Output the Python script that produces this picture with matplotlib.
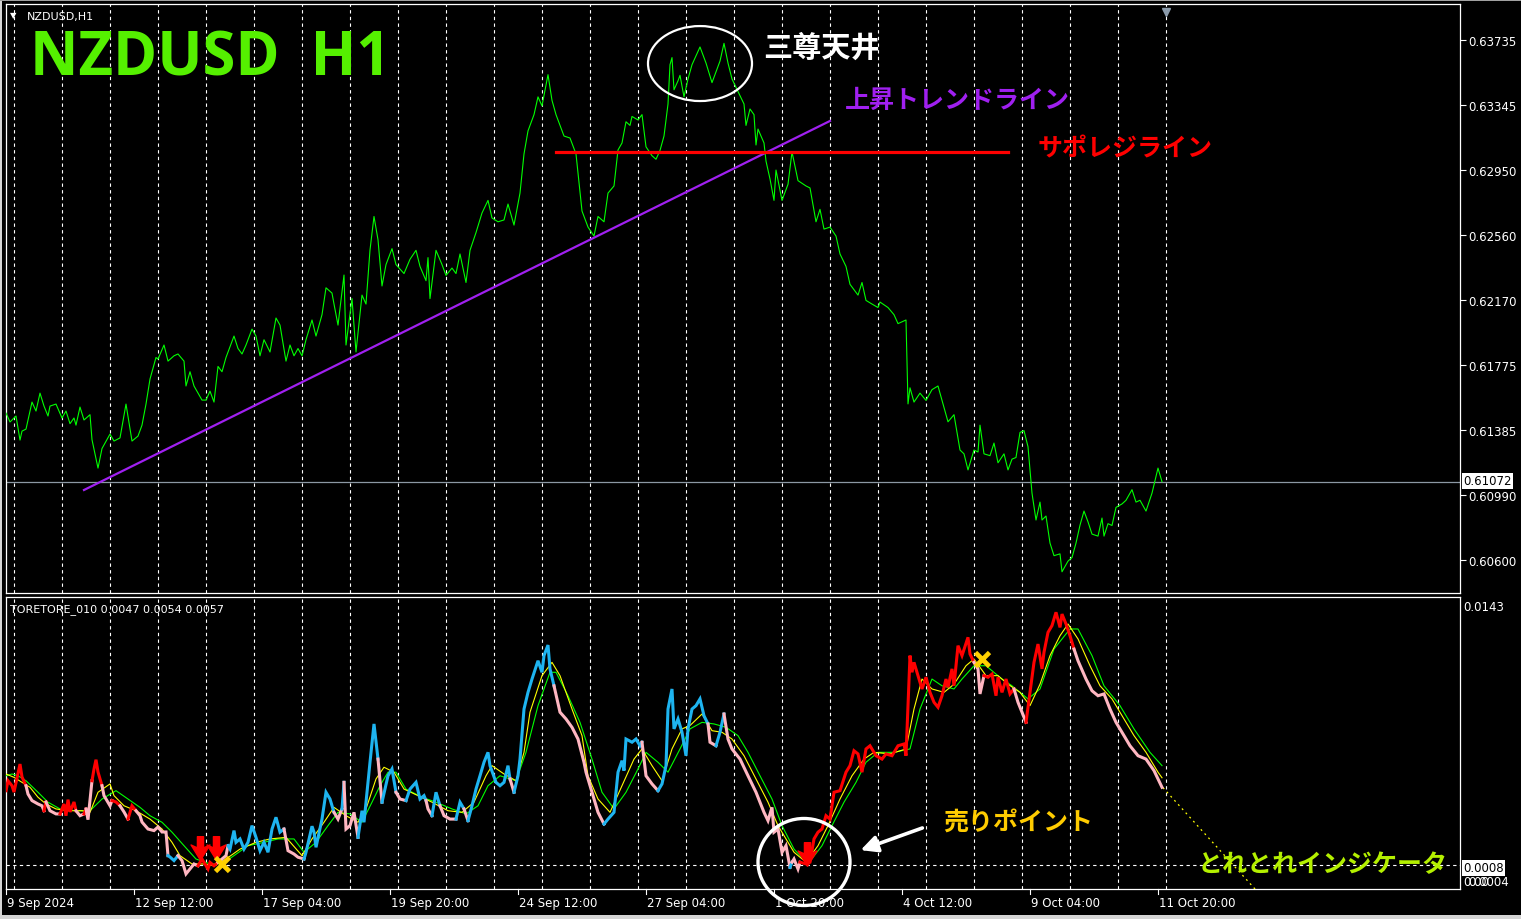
import matplotlib
matplotlib.use("Agg")
import matplotlib.pyplot as plt
from matplotlib.patches import Ellipse, Rectangle
from matplotlib.path import Path

W, H = 1521, 920
JP = ['Noto Sans CJK JP', 'DejaVu Sans']

# ---------------- data ----------------
date_labels = ['9 Sep 2024', '12 Sep 12:00', '17 Sep 04:00', '19 Sep 20:00', '24 Sep 12:00',
               '27 Sep 04:00', '1 Oct 20:00', '4 Oct 12:00', '9 Oct 04:00', '11 Oct 20:00']
date_bars = [0, 64, 128, 192, 256, 320, 384, 448, 512, 576]
day_bars = [4, 28, 52, 76, 100, 124, 148, 172, 196, 220, 244, 268, 292, 316, 340, 364,
            388, 412, 436, 460, 484, 508, 532, 556, 580]
price_ticks = [0.63735, 0.63345, 0.62950, 0.62560, 0.62170, 0.61775, 0.61385, 0.60990, 0.60600]
last_price = 0.61072

# NZDUSD H1 close (bar index, price)
price_bars = [0, 2, 4, 5, 7, 8, 10, 13, 15, 17, 19, 21, 22, 25, 28, 30, 32, 34, 35, 37, 39, 42, 43, 46,
              48, 52, 54, 57, 60, 63, 66, 68, 70, 72, 75, 76, 79, 81, 84, 86, 89, 90, 92, 94, 98, 100,
              102, 104, 106, 108, 110, 112, 114, 116, 118, 120, 123, 125, 127, 129, 132, 135, 137, 140,
              142, 144, 146, 148, 150, 153, 155, 158, 160, 163, 164, 166, 169, 170, 173, 175, 178, 180,
              182, 184, 186, 188, 190, 193, 195, 199, 202, 205, 207, 210, 211, 212, 215, 218, 220, 223,
              225, 227, 230, 232, 235, 238, 241, 243, 246, 249, 251, 254, 257, 259, 261, 264, 266, 268,
              271, 273, 275, 279, 282, 285, 288, 291, 294, 296, 299, 301, 304, 306, 308, 310, 312, 313,
              316, 318, 320, 323, 325, 327, 329, 331, 332, 333, 334, 336, 337, 339, 341, 343, 347, 350,
              353, 355, 357, 359, 361, 363, 366, 369, 370, 372, 374, 375, 376, 379, 380, 382, 384, 385,
              388, 391, 393, 396, 400, 402, 405, 407, 409, 412, 415, 417, 420, 422, 426, 428, 430, 433,
              436, 437, 441, 444, 446, 450, 451, 452, 454, 457, 460, 463, 466, 468, 471, 474, 477, 479,
              481, 484, 486, 487, 489, 492, 494, 496, 499, 501, 503, 505, 507, 509, 511, 513, 515, 517,
              518, 520, 522, 524, 527, 528, 531, 533, 535, 537, 539, 541, 543, 546, 548, 549, 551, 553,
              555, 558, 560, 563, 565, 567, 570, 573, 576, 578]
price_vals = [0.61486, 0.61432, 0.61456, 0.61468, 0.61323, 0.61377, 0.61389, 0.61552, 0.61498, 0.61606,
              0.61528, 0.61468, 0.61528, 0.61540, 0.61456, 0.61498, 0.61422, 0.61456, 0.61413, 0.61522,
              0.61444, 0.61476, 0.61325, 0.61154, 0.61272, 0.61359, 0.61317, 0.61336, 0.61540, 0.61317,
              0.61347, 0.61413, 0.61540, 0.61691, 0.61821, 0.61811, 0.61896, 0.61799, 0.61831, 0.61842,
              0.61799, 0.61649, 0.61735, 0.61649, 0.61564, 0.61564, 0.61618, 0.61552, 0.61767, 0.61735,
              0.61821, 0.61886, 0.61950, 0.61875, 0.61842, 0.61896, 0.61992, 0.61950, 0.61831, 0.61928,
              0.61854, 0.62059, 0.62016, 0.61799, 0.61896, 0.61831, 0.61875, 0.61831, 0.61928, 0.62047,
              0.61950, 0.62079, 0.62241, 0.62209, 0.62143, 0.62016, 0.62318, 0.61896, 0.62176, 0.61854,
              0.62197, 0.62143, 0.62469, 0.62671, 0.62531, 0.62252, 0.62381, 0.62477, 0.62381, 0.62327,
              0.62413, 0.62467, 0.62370, 0.62284, 0.62423, 0.62176, 0.62467, 0.62381, 0.62316, 0.62360,
              0.62327, 0.62445, 0.62273, 0.62467, 0.62574, 0.62692, 0.62768, 0.62662, 0.62639, 0.62650,
              0.62746, 0.62619, 0.62812, 0.63048, 0.63187, 0.63285, 0.63392, 0.63338, 0.63526, 0.63371,
              0.63285, 0.63156, 0.63144, 0.63048, 0.62704, 0.62607, 0.62553, 0.62671, 0.62639, 0.62812,
              0.62855, 0.63072, 0.63114, 0.63242, 0.63220, 0.63274, 0.63253, 0.63285, 0.63091, 0.63037,
              0.63016, 0.63069, 0.63156, 0.63349, 0.63586, 0.63629, 0.63435, 0.63489, 0.63522, 0.63392,
              0.63500, 0.63586, 0.63693, 0.63596, 0.63478, 0.63543, 0.63608, 0.63715, 0.63596, 0.63500,
              0.63424, 0.63349, 0.63220, 0.63319, 0.63285, 0.63102, 0.63198, 0.63114, 0.63005, 0.62897,
              0.62768, 0.62951, 0.62768, 0.62865, 0.63060, 0.62887, 0.62855, 0.62843, 0.62639, 0.62714,
              0.62595, 0.62607, 0.62553, 0.62445, 0.62370, 0.62262, 0.62197, 0.62273, 0.62165, 0.62143,
              0.62122, 0.62155, 0.62122, 0.62079, 0.62025, 0.62047, 0.61541, 0.61638, 0.61552, 0.61606,
              0.61562, 0.61627, 0.61649, 0.61562, 0.61433, 0.61476, 0.61263, 0.61240, 0.61143, 0.61263,
              0.61251, 0.61413, 0.61240, 0.61229, 0.61305, 0.61186, 0.61240, 0.61143, 0.61208, 0.61218,
              0.61369, 0.61380, 0.61283, 0.61003, 0.60841, 0.60949, 0.60841, 0.60865, 0.60702, 0.60626,
              0.60637, 0.60529, 0.60593, 0.60615, 0.60702, 0.60810, 0.60895, 0.60830, 0.60756, 0.60744,
              0.60853, 0.60744, 0.60819, 0.60808, 0.60917, 0.60938, 0.60960, 0.61024, 0.60949, 0.60960,
              0.60895, 0.61003, 0.61154, 0.61072]

# hand drawn objects on the price chart
trend_bars = [39, 412]
trend_prices = [0.61022, 0.63247]
sr_bars = [275, 501]
sr_price = 0.63060
top_ring = (347, 0.63593, 52, 0.00452)        # centre bar, centre price, width (bars), height

# TORETORE_010 indicator, values in units of 0.0001
main_bars = [0, 1, 3, 4, 7, 8, 10,
             11, 13, 16, 18, 19,
             20,
             22, 25, 27,
             29, 30, 31, 32, 34, 35,
             37, 39,
             40,
             41, 43,
             44, 45, 46, 48,
             49, 52, 53,
             55, 57,
             59, 61,
             63, 65,
             67, 68, 71, 74, 76, 78, 80, 81,
             82, 84, 86,
             88, 90, 92, 94, 96,
             98, 99, 101, 102, 104, 106,
             108, 110, 111,
             112, 114, 115, 117, 119, 121, 123, 125, 127, 129, 131, 133, 135, 137, 139,
             141, 144, 146, 149,
             150, 153, 154, 155, 158, 160, 162, 164,
             166, 168,
             169,
             170, 172, 174, 176,
             178, 179, 182, 184, 186,
             188,
             191, 193, 195,
             197, 200,
             202, 205, 207, 209, 210,
             211, 213,
             215, 217,
             219, 222, 225,
             227, 229,
             231,
             233, 235, 237, 239, 241, 242, 245, 247, 249, 251, 252,
             254,
             256, 257, 259, 261, 263, 266, 268, 269, 271, 272, 274,
             277, 280, 283, 286, 289, 290, 293, 296, 299,
             301, 304, 305, 306, 308, 309, 310, 313, 315, 317, 318,
             320, 323, 326,
             328, 330, 331, 333, 334, 336, 338, 340, 341, 343, 345, 347, 349, 351,
             352, 355,
             357, 359,
             361, 363, 367, 371, 375, 379, 381, 383, 384, 386, 388, 390, 392,
             393,
             394, 396, 397,
             400, 402, 404, 406, 408, 410, 412, 414, 417, 420, 422, 424, 426, 428, 430, 432, 435,
             438, 440, 443, 446, 449, 450, 451, 452, 453, 454, 456, 458, 460, 462, 464, 466, 468,
             470, 471, 473, 474, 476, 478, 481, 482, 484,
             486, 487, 489,
             491, 493, 495, 496, 498, 500, 502, 504,
             506, 508, 510,
             512, 514, 516, 518, 519, 521, 523, 525, 527, 528, 530, 532, 534,
             536, 540, 543, 546, 549, 552, 555, 559, 562, 566, 570, 574, 578]
main_e4 = [45.5, 50.5, 48.0, 44.8, 58.9, 52.4, 48.0,
           43.8, 40.5, 38.8, 37.9, 35.4,
           39.8,
           35.4, 33.8, 33.8,
           38.8, 32.9, 41.0, 34.8, 39.8, 35.4,
           32.9, 33.8,
           36.3,
           30.9, 50.5,
           56.4, 61.1, 54.9, 48.0,
           43.0, 37.9, 40.5,
           39.8, 37.9,
           34.8, 31.2,
           37.9, 35.4,
           32.9, 29.7, 26.2, 25.4, 27.2, 24.7, 24.7, 12.8,
           12.1, 10.3, 12.8,
           10.3, 3.6, 6.1, 8.6, 7.7,
           11.1, 9.4, 6.1, 9.4, 7.7, 9.4,
           11.1, 12.8, 17.8,
           16.1, 25.4, 19.5, 21.2, 16.1, 19.5, 27.9, 22.0, 15.3, 19.5, 14.5, 26.2, 32.1, 24.6, 26.2,
           15.3, 13.6, 12.0, 11.1,
           14.5, 27.6, 24.6, 17.0, 31.2, 44.7, 41.3, 34.6,
           31.2, 36.3,
           49.7,
           26.2, 27.9, 34.6, 22.0,
           35.4, 29.6, 59.8, 79.1, 61.4,
           39.7,
           53.0, 56.4, 44.7,
           41.3, 40.5,
           46.3, 49.7, 41.3, 43.0, 40.5,
           36.3, 32.9,
           44.7, 37.9,
           32.9, 31.2, 31.2,
           39.7, 36.3,
           30.4,
           37.9, 46.3, 53.0, 59.8, 64.8, 58.1, 49.7, 48.0, 49.7, 58.1, 51.4,
           44.7,
           53.0, 61.4, 86.6, 95.0, 101.7, 110.9, 105.1, 113.5, 118.8, 106.8, 98.3,
           85.0, 81.6, 77.4, 71.5, 59.8, 54.8, 44.7, 34.6, 28.7,
           31.2, 34.6, 44.7, 54.8, 60.6, 55.6, 71.5, 69.9, 71.5, 68.1, 69.9,
           53.0, 48.9, 45.5,
           48.9, 58.1, 86.6, 96.7, 76.6, 81.6, 74.9, 63.1, 76.6, 86.6, 88.3, 91.7, 83.2, 79.1,
           69.9, 68.1,
           74.9, 84.1,
           71.5, 66.5, 61.4, 53.0, 44.7, 34.6, 30.4, 37.1, 24.6, 26.2, 14.5, 17.8, 6.9,
           9.5,
           11.1, 6.1, 9.5,
           8.6, 9.5, 21.2, 24.6, 26.2, 32.9, 31.2, 44.7, 45.5, 54.8, 58.1, 65.6, 64.0, 54.8, 66.5, 68.1, 63.1,
           61.4, 64.0, 63.1, 68.1, 69.0, 63.1, 88.3, 113.5, 105.1, 110.1, 103.4, 96.7, 102.6, 95.0, 90.0, 87.5, 93.3,
           101.7, 97.5, 106.8, 98.3, 118.5, 113.5, 122.7, 114.3, 110.1,
           106.8, 94.2, 103.4,
           102.6, 104.2, 93.3, 102.6, 95.0, 101.7, 94.2, 96.7,
           90.0, 85.0, 79.9,
           95.0, 110.1, 119.3, 106.8, 115.2, 125.2, 128.6, 135.3, 127.7, 134.4, 129.4, 123.5, 116.8,
           110.9, 101.7, 95.8, 93.3, 94.2, 86.6, 79.9, 73.2, 68.1, 63.1, 61.4, 55.6, 47.2]
# colour state of the main line, as (state, number of points)
main_runs = [('r', 7), ('p', 5), ('r', 1), ('p', 3), ('r', 6), ('p', 2), ('r', 1), ('p', 2),
             ('r', 4), ('p', 3), ('r', 2), ('p', 2), ('r', 2), ('p', 8), ('b', 3), ('p', 5),
             ('r', 6), ('p', 3), ('b', 15), ('p', 4), ('b', 8), ('p', 2), ('b', 1), ('p', 4),
             ('b', 5), ('p', 1), ('b', 3), ('p', 2), ('b', 5), ('p', 2), ('b', 2), ('p', 3),
             ('b', 2), ('p', 1), ('b', 11), ('p', 1), ('b', 11), ('p', 9), ('b', 11), ('p', 3),
             ('b', 14), ('p', 2), ('b', 2), ('p', 13), ('b', 1), ('p', 3), ('r', 43), ('p', 3),
             ('r', 8), ('p', 3), ('r', 13), ('p', 13)]
state_colors = {'r': '#FF0000', 'p': '#FFB6C1', 'b': '#1EB4F0'}

fast_bars = [0, 4, 8, 12, 16, 20, 25, 31, 38, 42, 46, 52, 54, 59, 65, 72, 78, 83, 87, 93, 99, 104,
             110, 117, 125, 132, 140, 148, 153, 159, 164, 170, 176, 180, 185, 189, 194, 199, 206, 213,
             221, 228, 234, 240, 243, 249, 255, 259, 262, 268, 273, 277, 283, 288, 291, 296, 302, 308,
             314, 318, 323, 328, 333, 338, 342, 348, 353, 358, 363, 369, 375, 381, 386, 394, 400, 406,
             411, 417, 423, 429, 434, 442, 450, 454, 458, 463, 469, 474, 480, 484, 490, 496, 501, 507,
             512, 517, 522, 527, 531, 536, 542, 547, 553, 559, 564, 570, 576, 578]
fast_e4 = [53.9, 52.2, 49.7, 47.2, 42.2, 38.8, 36.3, 35.4, 35.4, 34.6, 44.7, 48.9, 43.0, 37.9, 35.4,
           31.2, 26.2, 19.5, 12.8, 8.6, 8.6, 7.7, 11.1, 16.1, 19.5, 21.2, 22.0, 12.8, 21.2, 29.6, 37.1,
           32.9, 29.6, 36.3, 51.4, 57.3, 54.8, 46.3, 43.0, 39.7, 35.4, 34.6, 39.7, 53.0, 58.1, 53.9,
           50.5, 64.8, 85.0, 103.4, 110.1, 103.4, 86.6, 73.2, 53.0, 41.3, 34.6, 48.0, 61.4, 66.5, 58.1,
           50.5, 66.5, 76.6, 78.3, 84.1, 75.7, 74.9, 71.5, 63.1, 51.4, 39.7, 27.9, 14.5, 9.5, 17.8,
           27.9, 41.3, 53.0, 61.4, 64.8, 64.0, 66.5, 86.6, 101.7, 96.7, 95.0, 99.1, 108.4, 111.8, 103.4,
           103.4, 99.1, 95.0, 88.3, 99.1, 113.5, 123.5, 129.4, 121.9, 108.4, 98.3, 91.7, 81.6, 73.2,
           64.8, 54.8, 52.0]
slow_bars = [0, 3, 6, 10, 16, 21, 27, 35, 42, 48, 55, 61, 67, 72, 78, 83, 89, 95, 102, 108, 114, 121,
             129, 136, 144, 149, 155, 161, 166, 172, 178, 183, 187, 191, 195, 200, 208, 215, 223, 230,
             236, 241, 247, 255, 260, 266, 272, 275, 281, 287, 293, 298, 304, 310, 316, 320, 326, 331,
             337, 342, 348, 354, 360, 366, 371, 377, 383, 388, 394, 401, 408, 413, 419, 425, 430, 436,
             444, 452, 457, 463, 468, 474, 478, 484, 490, 498, 503, 511, 517, 524, 532, 536, 543, 549,
             557, 564, 572, 578]
slow_e4 = [53.0, 53.9, 53.0, 50.5, 44.7, 39.7, 36.3, 35.4, 35.4, 41.3, 45.5, 41.3, 37.1, 32.9, 29.6,
           24.6, 17.8, 11.1, 8.6, 8.6, 12.8, 17.8, 19.5, 21.2, 21.2, 14.5, 19.5, 27.9, 34.6, 33.8, 29.6,
           39.7, 48.0, 54.8, 54.8, 46.3, 42.2, 39.7, 36.3, 33.8, 37.9, 48.0, 53.0, 50.5, 64.8, 88.3,
           105.1, 105.1, 93.3, 79.9, 61.4, 44.7, 36.3, 44.7, 56.4, 64.8, 59.8, 54.8, 66.5, 76.6, 79.9,
           79.1, 77.4, 73.2, 64.8, 53.0, 41.3, 27.9, 16.1, 8.6, 17.8, 27.9, 39.7, 49.7, 59.8, 64.8,
           64.8, 66.5, 86.6, 101.7, 98.3, 96.7, 101.7, 108.4, 108.4, 101.7, 98.3, 91.7, 96.7, 116.8,
           126.9, 126.9, 113.5, 98.3, 88.3, 76.6, 64.8, 58.1]
proj_bars = [578.5, 624.5]
proj_e4 = [47.0, -4.0]
level_e4 = 8.0
sell_arrow_bars = [96.75, 104.75, 400.25]
sell_arrow_e4 = [16.4, 16.4, 13.6]
exit_bars = [107.75, 488]
exit_e4 = [8.6, 111.8]
bottom_ring = (399, 9.6, 46, 43.8)
pointer_from = (459.5, 27.2)
pointer_to = (426, 15.1)

# ---------------- figure ----------------
fig = plt.figure(figsize=(W / 100, H / 100), dpi=100, facecolor='black')


def px(x, y):
    return x / W, 1 - y / H


# window border of the terminal
fig.add_artist(Rectangle((0, 0), 2 / W, 1, transform=fig.transFigure, color='#D4D4D4', lw=0))
fig.add_artist(Rectangle((0, 0), 1, 4 / H, transform=fig.transFigure, color='#D4D4D4', lw=0))
fig.add_artist(Rectangle((0, 1 - 2 / H), 1, 2 / H, transform=fig.transFigure, color='#A0A0A0', lw=0))

ax1 = fig.add_axes([6 / W, 1 - 594 / H, 1454 / W, 589 / H], facecolor='black')
ax2 = fig.add_axes([6 / W, 1 - 890 / H, 1454 / W, 292 / H], facecolor='black')

for ax in (ax1, ax2):
    ax.set_xlim(0, 727)
    for s in ax.spines.values():
        s.set_color('white')
        s.set_linewidth(0.9)
    for b in day_bars:
        ax.axvline(b, color='white', lw=0.8, ls=(0, (3, 3)), zorder=1)
    ax.tick_params(axis='x', bottom=False, labelbottom=False)

# ----- price panel -----
ax1.set_ylim(0.60401, 0.63952)
ax1.yaxis.tick_right()
ax1.set_yticks(price_ticks)
ax1.set_yticklabels([f'{v:.5f}' for v in price_ticks])
ax1.tick_params(axis='y', colors='white', length=4, width=0.8, pad=2, labelsize=8.5)
ax1.axhline(last_price, color='#8C98A4', lw=0.9, zorder=2)
ax1.plot(price_bars, price_vals, color='#00FF00', lw=0.8, zorder=3)
ax1.plot(trend_bars, trend_prices, color='#A020F0', lw=1.6, zorder=4)
ax1.plot(sr_bars, [sr_price, sr_price], color='#FF0000', lw=2.3, zorder=4)
cx, cy, ew, eh = top_ring
ax1.add_patch(Ellipse((cx, cy), ew, eh, fill=False, ec='white', lw=1.6, zorder=5))
ax1.plot([580], [0.9865], marker='v', color='#8A9AAA', ms=6, transform=ax1.get_xaxis_transform(),
         clip_on=False, zorder=6)
fig.text(1463 / W, 1 - 482 / H, f'{last_price:.5f}', color='black', fontsize=8.5, ha='left', va='center',
         bbox=dict(boxstyle='square,pad=0.12', fc='white', ec='none'))

# ----- indicator panel -----
ax2.set_ylim(-0.0004, 0.0143)
ax2.set_yticks([])
ax2.axhline(level_e4 * 1e-4, color='white', lw=0.8, ls=(0, (3, 3)), zorder=2)
ax2.plot(slow_bars, [v * 1e-4 for v in slow_e4], color='#00FF00', lw=0.8, zorder=3)
ax2.plot(fast_bars, [v * 1e-4 for v in fast_e4], color='#FFFF00', lw=0.8, zorder=3)
ax2.plot(proj_bars, [v * 1e-4 for v in proj_e4], color='#FFFF00', lw=0.9, ls=(0, (1.5, 3)), zorder=3)

states = ''.join(s * n for s, n in main_runs)
n = min(len(main_bars), len(main_e4), len(states))
start = 0
for i in range(1, n + 1):
    if i == n or states[i] != states[start]:
        lo = max(start - 1, 0)
        ax2.plot(main_bars[lo:i], [v * 1e-4 for v in main_e4[lo:i]], color=state_colors[states[start]],
                 lw=2.2, solid_joinstyle='miter', zorder=4)
        start = i

# thick MT4 style down arrow
arrow = Path([(-0.26, 1.0), (0.26, 1.0), (0.26, 0.05), (0.8, 0.3), (0.0, -1.0), (-0.8, 0.3),
              (-0.26, 0.05), (-0.26, 1.0)],
             [Path.MOVETO] + [Path.LINETO] * 6 + [Path.CLOSEPOLY])
ax2.plot(sell_arrow_bars, [v * 1e-4 for v in sell_arrow_e4], ls='none', marker=arrow, ms=17,
         color='#FF0000', mec='#FF0000', zorder=6)
ax2.plot(exit_bars, [v * 1e-4 for v in exit_e4], ls='none', marker='x', ms=10, mew=3.4,
         color='#FFD000', zorder=6)
bx, by, bw, bh = bottom_ring
ax2.add_patch(Ellipse((bx, by * 1e-4), bw, bh * 1e-4, fill=False, ec='white', lw=2.4, zorder=7,
                      clip_on=False))
ax2.annotate('', xy=(pointer_to[0], pointer_to[1] * 1e-4), xytext=(pointer_from[0], pointer_from[1] * 1e-4),
             arrowprops=dict(arrowstyle='-|>,head_length=1.0,head_width=0.5', color='white', lw=2.6),
             zorder=7)

# date axis
for b, lab in zip(date_bars, date_labels):
    x = 6 + 2 * b
    fig.add_artist(plt.Line2D([x / W, x / W], [1 - 890 / H, 1 - 895 / H], color='white', lw=0.8))
    fig.text((x + 1) / W, 1 - 904 / H, lab, color='white', fontsize=8.5, ha='left', va='center')

# right labels of the indicator panel
fig.text(1463 / W, 1 - 608 / H, '0.0143', color='white', fontsize=8.5, ha='left', va='center')
fig.text(1463 / W, 1 - 869 / H, '0.0008', color='black', fontsize=8.5, ha='left', va='center',
         bbox=dict(boxstyle='square,pad=0.12', fc='white', ec='none'))
fig.text(1463 / W, 1 - 883 / H, '0.00', color='white', fontsize=8.5, ha='left', va='center')
fig.text(1468 / W, 1 - 883 / H, '0.0004', color='white', fontsize=8.5, ha='left', va='center')

# captions
fig.text(*px(10, 16), '▼', color='white', fontsize=6, ha='left', va='center')
fig.text(*px(27, 17), 'NZDUSD,H1', color='white', fontsize=8, ha='left', va='center')
fig.text(*px(10, 610), 'TORETORE_010 0.0047 0.0054 0.0057', color='white', fontsize=8, ha='left',
         va='center')
fig.text(*px(30, 60), 'NZDUSD  H1', color='#55F000', fontsize=43, fontweight='bold',
         family='Open Sans', ha='left', va='center')
fig.text(*px(763, 48), '三尊天井', color='white', fontsize=21, family=JP, fontweight='bold',
         ha='left', va='center')
fig.text(*px(845, 101), '上昇トレンドライン', color='#A020F0', fontsize=18, family=JP,
         fontweight='bold', ha='left', va='center')
fig.text(*px(1038, 149), 'サポレジライン', color='#FF0000', fontsize=18, family=JP,
         fontweight='bold', ha='left', va='center')
fig.text(*px(943, 823), '売りポイント', color='#FFCC00', fontsize=18, family=JP,
         fontweight='bold', ha='left', va='center')
fig.text(*px(1198, 865), 'とれとれインジケータ', color='#B4F000', fontsize=18, family=JP,
         fontweight='bold', ha='left', va='center')

fig.savefig('out.png', dpi=100, facecolor='black')
